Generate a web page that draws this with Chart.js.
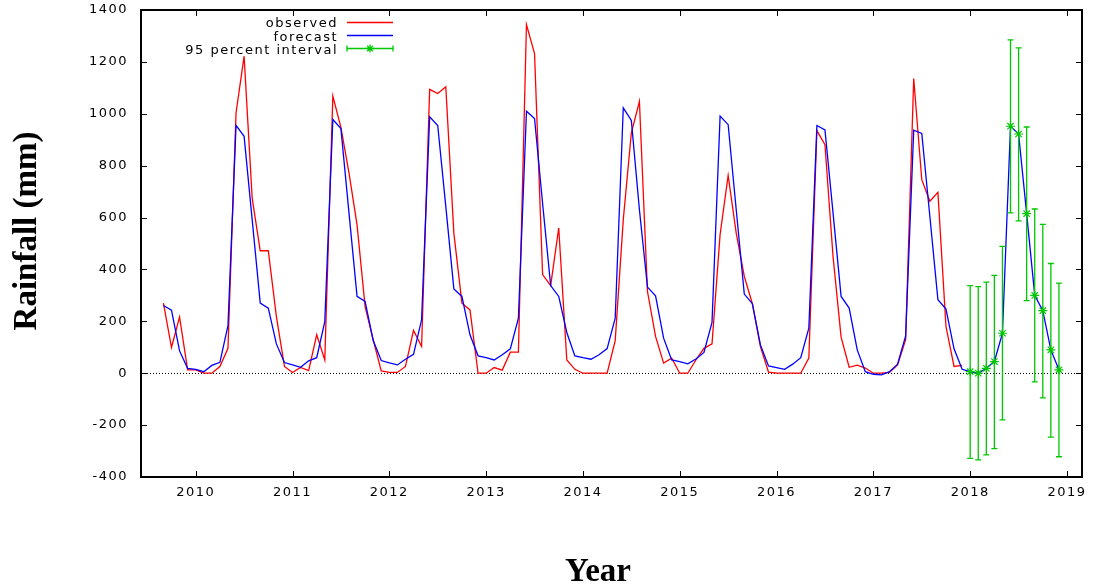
<!DOCTYPE html>
<html>
<head>
<meta charset="utf-8">
<title>Rainfall forecast</title>
<script src="https://cdn.jsdelivr.net/npm/chart.js@4.4.0/dist/chart.umd.min.js"></script>
<style>
  html, body { margin: 0; padding: 0; background: #fff; }
  canvas { display: block; }
</style>
</head>
<body>
<canvas id="rain" width="1097" height="587"></canvas>
<script>
// monthly series start in September 2009
const startYear = 2009;
const startMonth = 9;

const yearTicks = [2010, 2011, 2012, 2013, 2014, 2015, 2016, 2017, 2018, 2019];

// observed rainfall (mm), Sep 2009 - Dec 2017
const observed = [
  270, 99, 217, 13,
  13, 0, 0, 26, 96, 1003, 1222, 675, 472, 472, 219, 26,
  3, 22, 10, 148, 51, 1068, 948, 772, 572, 257, 129, 9,
  3, 3, 26, 165, 103, 1094, 1078, 1104, 540, 270, 244, 0,
  0, 22, 12, 81, 81, 1344, 1232, 380, 338, 560, 51, 15,
  0, 0, 0, 0, 126, 592, 926, 1048, 315, 142, 39, 58,
  0, 0, 51, 96, 113, 534, 762, 540, 373, 268, 103, 4,
  0, 0, 0, 0, 58, 935, 881, 450, 139, 23, 31, 20,
  0, 0, 3, 32, 129, 1136, 746, 663, 697, 180, 26, 30
];

// fitted values over the same months
const fitted = [
  261, 243, 86, 19,
  15, 6, 30, 42, 183, 955, 913, 592, 270, 251, 113, 41,
  32, 23, 48, 60, 199, 978, 943, 618, 296, 277, 126, 49,
  40, 32, 54, 73, 206, 988, 955, 643, 325, 296, 148, 67,
  60, 51, 71, 94, 212, 1010, 982, 654, 338, 296, 157, 67,
  60, 54, 71, 95, 212, 1023, 974, 630, 332, 298, 135, 51,
  45, 36, 55, 80, 196, 991, 958, 630, 305, 268, 109, 28,
  22, 15, 35, 60, 174, 955, 938, 618, 296, 251, 90, 6,
  -4, -6, 6, 35, 144, 937, 924, 605, 283, 247, 94, 15
];

// 2018 forecast and its 95% bounds
const forecastMean = [6, 0, 19, 45, 154, 952, 922, 615, 300, 241, 90, 13];
const upper95 = [338, 334, 351, 377, 489, 1285, 1254, 949, 633, 574, 423, 347];
const lower95 = [-328, -334, -315, -291, -180, 618, 587, 280, -33, -95, -246, -322];

const RED = '#ff0000';
const BLUE = '#0000ff';
const GREEN = '#00c800';
const TICK_FONT = { family: '"DejaVu Sans", sans-serif', size: 13 };
const SPACING = '1.5px';

const monthTime = i => startYear + (startMonth - 1 + i) / 12;

const observedPts = observed.map((v, i) => ({ x: monthTime(i), y: v }));
const forecastPts = fitted.concat(forecastMean).map((v, i) => ({ x: monthTime(i), y: v }));
const intervalPts = forecastMean.map((v, k) => ({ x: monthTime(fitted.length + k), y: v }));

function drawStar(ctx, cx, cy, r) {
  ctx.beginPath();
  ctx.moveTo(cx - r, cy); ctx.lineTo(cx + r, cy);
  ctx.moveTo(cx, cy - r); ctx.lineTo(cx, cy + r);
  const d = r * Math.SQRT1_2;
  ctx.moveTo(cx - d, cy - d); ctx.lineTo(cx + d, cy + d);
  ctx.moveTo(cx - d, cy + d); ctx.lineTo(cx + d, cy - d);
  ctx.stroke();
}

// box, inward ticks, zero line, error bars, key and axis titles
const gnuFrame = {
  id: 'gnuFrame',
  beforeDraw(chart) {
    chart.ctx.letterSpacing = SPACING;
  },
  beforeDatasetsDraw(chart) {
    const { ctx, chartArea: a, scales: { y } } = chart;
    const y0 = Math.round(y.getPixelForValue(0)) + 0.5;
    ctx.save();
    ctx.strokeStyle = '#000';
    ctx.lineWidth = 1;
    ctx.setLineDash([1, 2]);
    ctx.beginPath();
    ctx.moveTo(a.left, y0);
    ctx.lineTo(a.right, y0);
    ctx.stroke();
    ctx.restore();
  },
  afterDatasetsDraw(chart) {
    const { ctx, scales: { x, y } } = chart;
    ctx.save();
    ctx.strokeStyle = GREEN;
    ctx.lineWidth = 1.3;
    intervalPts.forEach((p, k) => {
      const px = x.getPixelForValue(p.x);
      const top = y.getPixelForValue(upper95[k]);
      const bot = y.getPixelForValue(lower95[k]);
      ctx.beginPath();
      ctx.moveTo(px, top); ctx.lineTo(px, bot);
      ctx.moveTo(px - 3, top); ctx.lineTo(px + 3, top);
      ctx.moveTo(px - 3, bot); ctx.lineTo(px + 3, bot);
      ctx.stroke();
    });
    ctx.restore();
  },
  afterDraw(chart) {
    const { ctx, chartArea: a, scales: { x, y } } = chart;
    const L = Math.round(a.left), R = Math.round(a.right);
    const T = Math.round(a.top), B = Math.round(a.bottom);
    ctx.save();
    ctx.letterSpacing = '0px';
    ctx.setLineDash([]);

    // border as filled strips
    ctx.fillStyle = '#000';
    ctx.fillRect(L - 1, T - 1, R - L + 2, 2);
    ctx.fillRect(L - 1, B - 1, R - L + 2, 2);
    ctx.fillRect(L - 1, T - 1, 2, B - T + 2);
    ctx.fillRect(R - 1, T - 1, 2, B - T + 2);

    // ticks pointing inward on all four sides
    x.ticks.forEach(t => {
      const px = Math.round(x.getPixelForValue(t.value));
      ctx.fillRect(px, B - 6, 1, 6);
      ctx.fillRect(px, T, 1, 6);
    });
    y.ticks.forEach(t => {
      const py = Math.round(y.getPixelForValue(t.value));
      ctx.fillRect(L, py, 6, 1);
      ctx.fillRect(R - 6, py, 6, 1);
    });

    // key
    const ds = chart.data.datasets;
    const rows = [27.3, 40.6, 53.9];
    ctx.font = '13px "DejaVu Sans", sans-serif';
    ctx.letterSpacing = SPACING;
    ctx.fillStyle = '#000';
    ctx.textAlign = 'right';
    ctx.textBaseline = 'alphabetic';
    ds.forEach((d, i) => ctx.fillText(d.label, 338, rows[i]));
    ctx.letterSpacing = '0px';
    const x0 = 347, x1 = 393;
    ds.forEach((d, i) => {
      const ly = Math.round(rows[i] - 5.5) + 0.5;
      ctx.strokeStyle = d.borderColor;
      ctx.lineWidth = 1.3;
      ctx.beginPath();
      ctx.moveTo(x0, ly); ctx.lineTo(x1, ly);
      if (i === 2) {
        ctx.moveTo(x0, ly - 3); ctx.lineTo(x0, ly + 3);
        ctx.moveTo(x1, ly - 3); ctx.lineTo(x1, ly + 3);
      }
      ctx.stroke();
      if (i === 2) drawStar(ctx, (x0 + x1) / 2, ly, 4);
    });

    // axis titles
    ctx.fillStyle = '#000';
    ctx.font = 'bold 33px "Liberation Serif", serif';
    ctx.textAlign = 'center';
    ctx.textBaseline = 'alphabetic';
    ctx.fillText('Year', 598, 581);
    ctx.translate(36, 231);
    ctx.rotate(-Math.PI / 2);
    ctx.fillText('Rainfall (mm)', 0, 0);
    ctx.restore();
  }
};

new Chart(document.getElementById('rain'), {
  type: 'line',
  data: {
    datasets: [
      {
        label: 'observed',
        data: observedPts,
        borderColor: RED,
        borderWidth: 1.3,
        pointRadius: 0,
        tension: 0,
        order: 3
      },
      {
        label: 'forecast',
        data: forecastPts,
        borderColor: BLUE,
        borderWidth: 1.3,
        pointRadius: 0,
        tension: 0,
        order: 2
      },
      {
        label: '95 percent interval',
        data: intervalPts,
        borderColor: GREEN,
        backgroundColor: GREEN,
        showLine: false,
        pointStyle: 'star',
        pointRadius: 4.5,
        pointBorderWidth: 1.2,
        order: 1
      }
    ]
  },
  options: {
    responsive: false,
    devicePixelRatio: 1,
    animation: false,
    layout: { padding: { top: 10, right: 15, left: 0, bottom: 0 } },
    plugins: {
      legend: { display: false },
      tooltip: { enabled: false }
    },
    scales: {
      x: {
        type: 'linear',
        min: 2009.435,
        max: 2019.155,
        afterBuildTicks: s => { s.ticks = yearTicks.map(v => ({ value: v })); },
        afterFit: s => {
          s.height = 110;
          s.paddingLeft = 0;
          s.paddingRight = 0;
        },
        grid: { display: false },
        border: { display: false },
        ticks: {
          color: '#000',
          font: TICK_FONT,
          padding: 0,
          maxRotation: 0,
          autoSkip: false,
          callback: v => String(v)
        }
      },
      y: {
        min: -400,
        max: 1400,
        afterFit: s => {
          s.width = 141;
          s.paddingTop = 0;
          s.paddingBottom = 0;
        },
        grid: { display: false },
        border: { display: false },
        ticks: {
          stepSize: 200,
          color: '#000',
          font: TICK_FONT,
          padding: 5,
          callback: v => String(v)
        }
      }
    }
  },
  plugins: [gnuFrame]
});
</script>
</body>
</html>
